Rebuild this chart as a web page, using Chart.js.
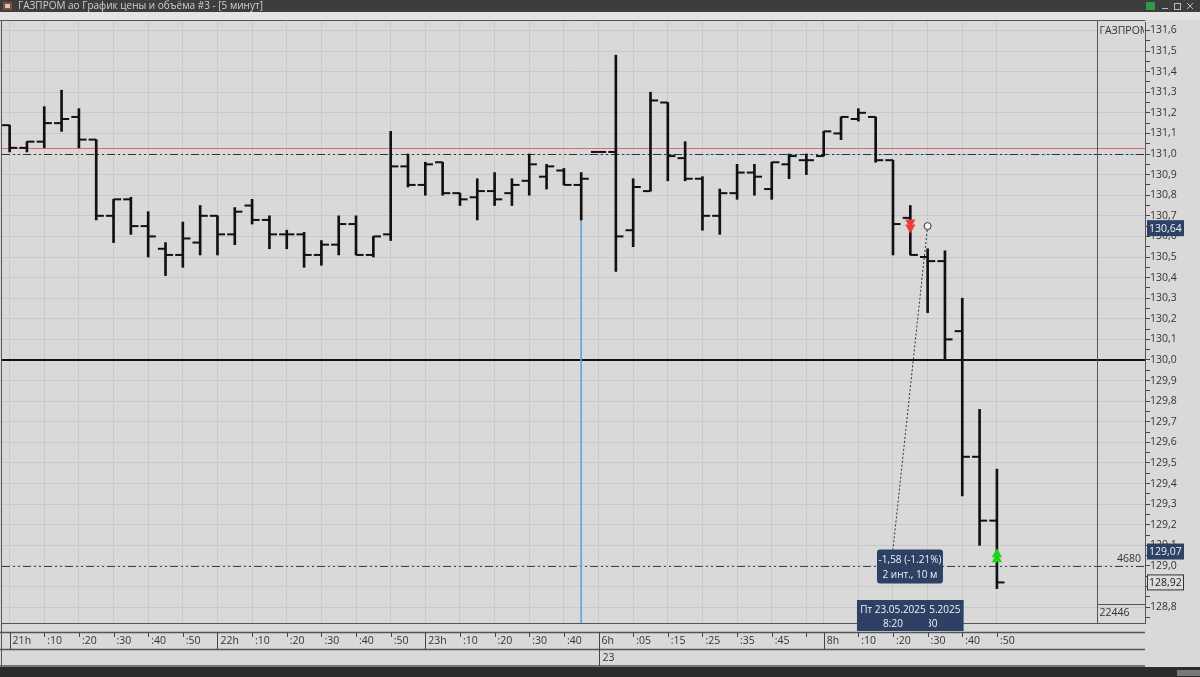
<!DOCTYPE html>
<html>
<head>
<meta charset="utf-8">
<title>ГАЗПРОМ ао График цены и объёма #3</title>
<script src="https://cdn.jsdelivr.net/npm/chart.js@4/dist/chart.umd.min.js"></script>
<style>
  html, body { margin: 0; padding: 0; background: #d9d9d9; }
  #wrap { width: 1200px; height: 677px; position: relative; }
</style>
</head>
<body>
<div id="wrap"><canvas id="priceChart"></canvas></div>
<script>
// 5-minute OHLC bars, bar 0 = 21:00 (22.05), bar 34 = start of 23.05 session
var opens  = [131.14, 131.03, 131.06, 131.15, 131.18, 131.07, 130.70, 130.78, 130.65, 130.54,
              130.51, 130.57, 130.70, 130.61, 130.75, 130.68, 130.61, 130.61, 130.51, 130.56,
              130.66, 130.51, 130.61, 130.94, 130.85, 130.96, 130.81, 130.79, 130.82, 130.81,
              130.87, 130.89, 130.92, 130.85, 131.01, 131.01, 130.63, 130.82, 131.25, 130.98,
              130.88, 130.70, 130.81, 130.91, 130.83, 130.95, 130.97, 130.99, 131.10, 131.17,
              131.18, 130.97, 130.69, 130.50, 130.48, 130.14, 129.53, 129.22];
var highs  = [131.14, 131.06, 131.23, 131.31, 131.22, 131.07, 130.78, 130.79, 130.72, 130.57,
              130.67, 130.75, 130.70, 130.74, 130.78, 130.70, 130.63, 130.62, 130.58, 130.70,
              130.70, 130.60, 131.11, 131.00, 130.96, 130.96, 130.81, 130.88, 130.91, 130.88,
              131.00, 130.95, 130.93, 130.91, 131.01, 131.48, 130.88, 131.30, 131.25, 131.06,
              130.89, 130.83, 130.95, 130.95, 130.96, 131.00, 131.00, 131.11, 131.18, 131.22,
              131.18, 130.97, 130.75, 130.54, 130.53, 130.30, 129.76, 129.47];
var lows   = [131.01, 131.01, 131.03, 131.11, 131.03, 130.68, 130.57, 130.61, 130.50, 130.41,
              130.45, 130.51, 130.51, 130.56, 130.66, 130.54, 130.54, 130.45, 130.46, 130.51,
              130.51, 130.50, 130.58, 130.84, 130.80, 130.80, 130.75, 130.68, 130.75, 130.75,
              130.80, 130.83, 130.85, 130.68, 131.01, 130.43, 130.55, 130.82, 130.87, 130.87,
              130.63, 130.61, 130.78, 130.80, 130.78, 130.88, 130.90, 130.99, 131.07, 131.16,
              130.96, 130.51, 130.51, 130.23, 130.00, 129.34, 129.10, 128.89];
var closes = [131.03, 131.06, 131.15, 131.17, 131.07, 130.70, 130.78, 130.65, 130.60, 130.51,
              130.59, 130.70, 130.61, 130.72, 130.68, 130.61, 130.61, 130.51, 130.56, 130.66,
              130.51, 130.60, 130.94, 130.85, 130.95, 130.81, 130.78, 130.82, 130.78, 130.85,
              130.95, 130.94, 130.85, 130.88, 131.01, 130.60, 130.84, 131.26, 130.99, 130.88,
              130.70, 130.81, 130.91, 130.89, 130.96, 130.99, 130.97, 131.11, 131.18, 131.20,
              130.97, 130.66, 130.51, 130.48, 130.10, 129.53, 129.22, 128.92];

var xTickBars   = [0, 2, 4, 6, 8, 10, 12, 14, 16, 18, 20, 22, 24, 26, 28, 30, 32,
                   34, 36, 38, 40, 42, 44, 46, 47, 49, 51, 53, 55, 57];
var xTickLabels = ['21h', ':10', ':20', ':30', ':40', ':50', '22h', ':10', ':20', ':30', ':40', ':50',
                   '23h', ':10', ':20', ':30', ':40', '6h', ':05', ':15', ':25', ':35', ':45', '',
                   '8h', ':10', ':20', ':30', ':40', ':50'];
var hourBars    = [0, 12, 24, 34, 47];
var dayBar = 34, dayLabel = '23';

var priceLabels = ['128,8', '128,9', '129,0', '129,1', '129,2', '129,3', '129,4', '129,5', '129,6',
                   '129,7', '129,8', '129,9', '130,0', '130,1', '130,2', '130,3', '130,4', '130,5',
                   '130,6', '130,7', '130,8', '130,9', '131,0', '131,1', '131,2', '131,3', '131,4',
                   '131,5', '131,6'];

var levelPrices = [131.03, 131.0, 130.0, 129.0];
var markerBar = 33;
var sellBar = 52, sellPrice = 130.655;
var buyBar = 57, buyPrice = 129.045;
var measureBars = [53, 51], measurePrices = [130.65, 129.08];
var measureText = ['-1,58 (-1.21%)', '2 инт., 10 м'];
var timeBars = [53, 51], timeTexts = ['8:30', '8:20'], timeDate = 'Пт 23.05.2025';
var tagPrices = [130.64, 129.07, 128.92];
var tagLabels = ['130,64', '129,07', '128,92'];
var volumeTop = '4680', volumeBottom = '22446';

var FONT = "'Open Sans', 'Noto Sans', sans-serif";
Chart.defaults.font.family = FONT;

var yTickValues = [];
priceLabels.forEach(function (l) {
  var v = parseFloat(l.replace(',', '.'));
  yTickValues.push(+(v - 0.05).toFixed(2));
  yTickValues.push(v);
});

function hline(c, x1, x2, y, col, w) {
  c.strokeStyle = col; c.lineWidth = w || 1;
  c.beginPath(); c.moveTo(x1, y); c.lineTo(x2, y); c.stroke();
}
function vline(c, x, y1, y2, col, w) {
  c.strokeStyle = col; c.lineWidth = w || 1;
  c.beginPath(); c.moveTo(x, y1); c.lineTo(x, y2); c.stroke();
}
function rbox(c, x, y, w, h, r) {
  c.beginPath();
  c.moveTo(x + r, y); c.lineTo(x + w - r, y); c.quadraticCurveTo(x + w, y, x + w, y + r);
  c.lineTo(x + w, y + h - r); c.quadraticCurveTo(x + w, y + h, x + w - r, y + h);
  c.lineTo(x + r, y + h); c.quadraticCurveTo(x, y + h, x, y + h - r);
  c.lineTo(x, y + r); c.quadraticCurveTo(x, y, x + r, y);
  c.closePath();
}

var levelStyles = [
  { color: '#e06868', width: 1, dash: [] },
  { color: '#333333', width: 1, dash: [8, 3, 2, 3, 2, 3] },
  { color: '#111111', width: 2, dash: [] },
  { color: '#444444', width: 1, dash: [8, 3, 2, 3, 2, 3] }
];

var terminalPlugin = {
  id: 'terminal',
  beforeDraw: function (chart) {
    var c = chart.ctx;
    c.save();
    c.fillStyle = '#d9d9d9';
    c.fillRect(0, 0, chart.width, chart.height);
    c.restore();
  },
  beforeDatasetsDraw: function (chart) {
    var c = chart.ctx, a = chart.chartArea, xs = chart.scales.x, ys = chart.scales.y;
    c.save();
    c.beginPath(); c.rect(a.left, a.top, a.right - a.left, a.bottom - a.top); c.clip();
    // blue marker dash along 131.0
    c.setLineDash([3, 3]);
    hline(c, xs.getPixelForValue(markerBar), a.right, Math.round(ys.getPixelForValue(levelPrices[1])) + 0.5, '#6aaede', 1);
    levelPrices.forEach(function (p, i) {
      var st = levelStyles[i];
      var py = Math.round(ys.getPixelForValue(p)) + (st.width % 2 ? 0.5 : 0);
      c.setLineDash(st.dash);
      hline(c, a.left, a.right, py, st.color, st.width);
    });
    c.restore();
  },
  afterDraw: function (chart) {
    var c = chart.ctx, a = chart.chartArea, xs = chart.scales.x, ys = chart.scales.y;
    var W = chart.width, H = chart.height;
    c.save();
    c.setLineDash([]);

    // window title bar
    c.fillStyle = '#3d3d3d'; c.fillRect(0, 0, W, 12);
    c.fillStyle = '#e4e4e4'; c.fillRect(0, 12, W, 8);
    c.fillStyle = '#8a4a3a'; c.fillRect(3, 2, 9, 8);
    c.fillStyle = '#c9c9c9'; c.fillRect(5, 4, 5, 4);
    c.fillStyle = '#d0d0d0';
    c.font = '10px ' + FONT; c.textBaseline = 'middle'; c.textAlign = 'left';
    c.fillText('ГАЗПРОМ ао График цены и объёма #3 - [5 минут]', 18, 6.5);
    c.fillStyle = '#2f9a4a'; c.fillRect(1146, 2, 9, 8);
    hline(c, 1162, 1168, 8.5, '#bbbbbb', 1);
    c.strokeStyle = '#bbbbbb'; c.strokeRect(1174.5, 3.5, 6, 6);
    c.beginPath(); c.moveTo(1187, 3); c.lineTo(1193, 9); c.moveTo(1193, 3); c.lineTo(1187, 9); c.stroke();

    // frame
    hline(c, 0, a.right + 0.5, 20.5, '#555555', 1);
    vline(c, 1.5, 20, 666, '#555555', 1);
    var colX = a.right - 47.5;
    vline(c, colX, 20, a.bottom, '#555555', 1);
    hline(c, colX, a.right, 604.5, '#555555', 1);
    c.fillStyle = '#333333';
    c.font = '10.5px ' + FONT;
    c.save();
    c.beginPath(); c.rect(colX, 21, a.right - colX - 1, 20); c.clip();
    c.fillText('ГАЗПРОМ', colX + 2, 31);
    c.restore();
    c.fillText(volumeBottom, colX + 2, 613);
    c.textAlign = 'right';
    c.fillText(volumeTop, a.right - 4, 559);

    // time axis rows
    hline(c, 0, a.right, 632.5, '#555555', 1.5);
    hline(c, 0, a.right, 649.5, '#555555', 1.5);
    hline(c, 0, a.right, 666, '#555555', 1.5);
    xTickBars.forEach(function (b) {
      vline(c, Math.round(xs.getPixelForValue(b)) + 0.5, 632, 637, '#444444', 1);
    });
    hourBars.forEach(function (b) {
      vline(c, Math.round(xs.getPixelForValue(b)) + 0.5, 632, 649, '#444444', 1);
    });
    var dx = Math.round(xs.getPixelForValue(dayBar)) + 0.5;
    vline(c, dx, 649, 666, '#444444', 1);
    c.textAlign = 'left'; c.fillStyle = '#333333'; c.font = '10.5px ' + FONT;
    c.fillText(dayLabel, dx + 3, 658);

    // price tags on axis
    tagPrices.forEach(function (p, i) {
      var py = ys.getPixelForValue(p);
      if (i < 2) {
        c.fillStyle = '#2c4163'; c.fillRect(a.right + 2, py - 8, 37, 16);
        c.fillStyle = '#eef2f7';
      } else {
        c.fillStyle = '#dcdcdc'; c.fillRect(a.right + 2, py - 8, 37, 16);
        c.strokeStyle = '#333333'; c.lineWidth = 1; c.strokeRect(a.right + 2.5, py - 7.5, 36, 15);
        c.fillStyle = '#222222';
      }
      c.fillText(tagLabels[i], a.right + 4, py + 0.5);
    });

    // measure label
    var mx = xs.getPixelForValue(measureBars[1]), my = ys.getPixelForValue(measurePrices[1]);
    c.fillStyle = '#2c4163'; rbox(c, mx - 16, my, 66, 34, 3); c.fill();
    c.fillStyle = '#eef2f7'; c.textAlign = 'center';
    c.font = '10px ' + FONT;
    c.fillText(measureText[0], mx + 17, my + 11);
    c.fillText(measureText[1], mx + 17, my + 26);

    // time labels at axis
    timeBars.forEach(function (b, i) {
      var tx = xs.getPixelForValue(b);
      c.fillStyle = '#2c4163'; c.fillRect(tx - 36, 600, 72, 31);
      c.fillStyle = '#eef2f7';
      c.fillText(timeDate, tx, 610);
      c.fillText(timeTexts[i], tx, 624);
    });

    // bottom scroll strip
    c.fillStyle = '#2b2b2b'; c.fillRect(0, 667, W, H - 667);
    c.fillStyle = '#777777'; c.fillRect(1177, 670, 23, 6);
    c.restore();
  }
};

var barData = highs.map(function (h, i) { return { x: i, y: [lows[i], h] }; });
var openData = opens.map(function (o, i) { return { x: i - 0.22, y: o }; });
var closeData = closes.map(function (cl, i) { return { x: i + 0.22, y: cl }; });

var ctx = document.getElementById('priceChart');
var myChart = new Chart(ctx, {
  type: 'scatter',
  data: {
    datasets: [
      {
        type: 'scatter', label: 'sell',
        data: [{ x: sellBar, y: sellPrice + 0.012 }, { x: sellBar, y: sellPrice - 0.012 }],
        pointStyle: 'triangle', pointRotation: 180, pointRadius: 6,
        backgroundColor: '#ee3b3b', borderColor: '#ee3b3b', borderWidth: 0
      },
      {
        type: 'scatter', label: 'buy',
        data: [{ x: buyBar, y: buyPrice - 0.012 }, { x: buyBar, y: buyPrice + 0.012 }],
        pointStyle: 'triangle', pointRadius: 6,
        backgroundColor: '#1fd21f', borderColor: '#1fd21f', borderWidth: 0
      },
      {
        type: 'scatter', label: 'anchor',
        data: [{ x: measureBars[0], y: measurePrices[0] }],
        pointStyle: 'circle', pointRadius: 3.5,
        backgroundColor: '#f4f4f4', borderColor: '#333333', borderWidth: 1
      },
      {
        type: 'line', label: 'measure',
        data: [{ x: measureBars[0], y: measurePrices[0] }, { x: measureBars[1], y: measurePrices[1] }],
        borderColor: '#333333', borderWidth: 1, borderDash: [2, 2], pointRadius: 0
      },
      {
        type: 'scatter', label: 'open',
        data: openData, pointStyle: 'line', pointRadius: 3.8,
        borderColor: '#111111', borderWidth: 2
      },
      {
        type: 'scatter', label: 'close',
        data: closeData, pointStyle: 'line', pointRadius: 3.8,
        borderColor: '#111111', borderWidth: 2
      },
      {
        type: 'bar', label: 'range',
        data: barData, barThickness: 2, backgroundColor: '#111111', borderWidth: 0
      },
      {
        type: 'line', label: 'cursor',
        data: [{ x: markerBar, y: lows[markerBar] }, { x: markerBar, y: 128.5 }],
        borderColor: '#58a8dc', borderWidth: 1, pointRadius: 0
      }
    ]
  },
  options: {
    responsive: true,
    maintainAspectRatio: false,
    animation: false,
    devicePixelRatio: 1,
    layout: { autoPadding: false, padding: { top: 22, left: 2, right: 0, bottom: 0 } },
    plugins: { legend: { display: false }, tooltip: { enabled: false } },
    events: [],
    scales: {
      x: {
        type: 'linear', position: 'bottom',
        min: -0.44, max: 65.55, offset: false,
        afterBuildTicks: function (s) { s.ticks = xTickBars.map(function (v) { return { value: v }; }); },
        afterFit: function (s) { s.height = 54; s.paddingLeft = 0; s.paddingRight = 0; },
        ticks: {
          autoSkip: false, maxRotation: 0, minRotation: 0,
          align: 'start', labelOffset: 3, padding: 12,
          color: '#333333', font: { size: 10.5 },
          callback: function (v, i) { return xTickLabels[i]; }
        },
        grid: { color: '#c9c9c9', drawTicks: false, offset: false },
        border: { color: '#555555', width: 1 }
      },
      y: {
        type: 'linear', position: 'right',
        min: 128.723, max: 131.641,
        afterBuildTicks: function (s) { s.ticks = yTickValues.map(function (v) { return { value: v }; }); },
        afterFit: function (s) { s.width = 55; s.paddingTop = 0; s.paddingBottom = 0; },
        ticks: {
          autoSkip: false, padding: 0,
          color: '#333333', font: { size: 10.5 },
          callback: function (v, i) { return i % 2 ? priceLabels[(i - 1) / 2] : ''; }
        },
        grid: {
          color: function (c) { return c.index % 2 ? '#c9c9c9' : 'rgba(0,0,0,0)'; },
          tickColor: '#444444', tickLength: 5
        },
        border: { color: '#555555', width: 1 }
      }
    }
  },
  plugins: [terminalPlugin]
});
</script>
</body>
</html>
